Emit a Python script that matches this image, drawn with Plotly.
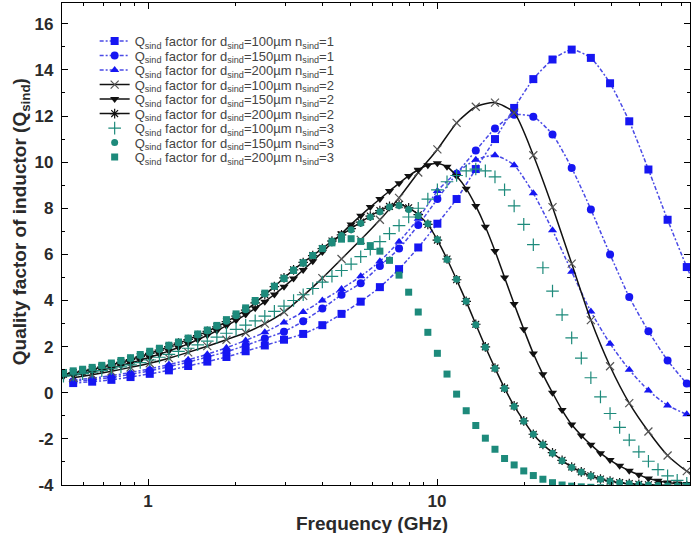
import plotly.graph_objects as go

# ---------------- data ----------------
# frequency grid (GHz) used by the densely sampled series
freq_fine = [0.510, 0.551, 0.594, 0.641, 0.692, 0.747, 0.806, 0.870, 0.940, 1.014,
             1.095, 1.181, 1.275, 1.377, 1.486, 1.604, 1.731, 1.868, 2.017, 2.177,
             2.349, 2.536, 2.737, 2.955, 3.189, 3.443, 3.716, 4.011, 4.330, 4.673,
             5.044, 5.445, 5.877, 6.344, 6.848, 7.391, 7.978, 8.612, 9.296, 10.03,
             10.83, 11.69, 12.62, 13.62, 14.70, 15.87, 17.13, 18.49, 19.96, 21.54,
             23.25, 25.10, 27.09, 29.24, 31.57, 34.07, 36.78, 39.70, 42.85, 46.26,
             49.93, 53.89, 58.17, 62.79, 67.78, 73.16, 78.97]

# frequency grid (GHz) used by the sparsely sampled series
freq_coarse = [0.551, 0.641, 0.747, 0.870, 1.014, 1.181, 1.377, 1.604, 1.868, 2.177,
               2.536, 2.955, 3.443, 4.011, 4.673, 5.445, 6.344, 7.391, 8.612, 10.03,
               11.69, 13.62, 15.87, 18.49, 21.54, 25.10, 29.24, 34.07, 39.70, 46.26,
               53.89, 62.79, 73.16, 85.24]

# n_sind = 1 (blue)
q_d100_n1 = [0.42, 0.48, 0.56, 0.68, 0.82, 0.97, 1.16, 1.35, 1.55, 1.80,
             2.05, 2.30, 2.55, 2.93, 3.42, 3.95, 4.58, 5.36, 6.30, 7.33,
             8.40, 9.70, 11.00, 12.35, 13.60, 14.45, 14.88, 14.52, 13.42, 11.77,
             9.68, 7.50, 5.45, 3.60]
q_d150_n1 = [0.50, 0.56, 0.66, 0.80, 0.95, 1.13, 1.33, 1.55, 1.78, 2.05,
             2.35, 2.65, 3.10, 3.65, 4.25, 4.75, 5.50, 6.25, 7.27, 8.40,
             9.50, 10.50, 11.46, 12.05, 11.97, 11.20, 9.75, 7.95, 6.00, 4.15,
             2.67, 1.40, 0.40, -0.40]
q_d200_n1 = [0.55, 0.63, 0.74, 0.88, 1.04, 1.22, 1.43, 1.67, 1.95, 2.27,
             2.62, 3.05, 3.50, 4.00, 4.50, 5.05, 5.70, 6.55, 7.55, 8.75,
             9.55, 10.10, 10.30, 9.87, 8.65, 7.05, 5.25, 3.52, 2.13, 1.00,
             0.10, -0.55, -0.93, -1.20]

# n_sind = 2 (black)
q_d100_n2 = [0.65, 0.78, 0.93, 1.10, 1.28, 1.50, 1.75, 2.02, 2.30, 2.60,
             3.00, 3.50, 4.20, 4.97, 5.80, 6.63, 7.50, 8.45, 9.55, 10.55,
             11.70, 12.40, 12.58, 12.15, 10.30, 8.05, 5.60, 3.15, 1.15, -0.45,
             -1.68, -2.72, -3.40, -3.80]
q_d150_n2 = [0.72, 0.78, 0.84, 0.91, 0.99, 1.08, 1.18, 1.29, 1.41, 1.54,
             1.67, 1.81, 1.96, 2.12, 2.30, 2.49, 2.69, 2.91, 3.14, 3.39,
             3.66, 3.95, 4.26, 4.60, 4.95, 5.32, 5.70, 6.10, 6.50, 6.90,
             7.30, 7.68, 8.05, 8.40, 8.75, 9.08, 9.40, 9.67, 9.87, 9.95,
             9.80, 9.40, 8.85, 8.10, 7.20, 6.15, 5.00, 3.85, 2.75, 1.70,
             0.80, 0.00, -0.75, -1.38, -1.85, -2.25, -2.62, -2.92, -3.17, -3.38,
             -3.56, -3.72, -3.82, -3.89, -3.93, -3.96, -3.98]
q_d200_n2 = [0.80, 0.87, 0.94, 1.02, 1.11, 1.21, 1.32, 1.44, 1.57, 1.71,
             1.85, 2.00, 2.15, 2.31, 2.48, 2.66, 2.86, 3.08, 3.32, 3.58,
             3.90, 4.25, 4.60, 4.98, 5.33, 5.65, 5.95, 6.25, 6.58, 6.85,
             7.12, 7.40, 7.66, 7.90, 8.08, 8.16, 8.02, 7.72, 7.30, 6.62,
             5.80, 4.90, 3.96, 2.97, 1.99, 1.07, 0.20, -0.57, -1.22, -1.80,
             -2.24, -2.60, -2.93, -3.22, -3.43, -3.60, -3.74, -3.83, -3.90, -3.94,
             -3.97, -3.99, -4.01, -4.02, -4.03, -4.04, -4.05]

# n_sind = 3 (teal)
q_d100_n3 = [0.72, 0.77, 0.83, 0.89, 0.96, 1.04, 1.12, 1.21, 1.31, 1.42,
             1.54, 1.66, 1.79, 1.93, 2.08, 2.24, 2.41, 2.58, 2.75, 2.93,
             3.12, 3.32, 3.53, 3.76, 4.00, 4.25, 4.52, 4.80, 5.05, 5.30,
             5.58, 5.90, 6.22, 6.55, 6.90, 7.25, 7.62, 8.00, 8.40, 8.80,
             9.15, 9.42, 9.62, 9.70, 9.62, 9.36, 8.80, 8.10, 7.30, 6.42,
             5.42, 4.41, 3.38, 2.38, 1.50, 0.65, -0.18, -0.90, -1.50, -2.05,
             -2.56, -2.97, -3.33, -3.60, -3.80, -3.93, -4.02]
q_d150_n3 = [0.85, 0.92, 0.99, 1.07, 1.16, 1.26, 1.37, 1.49, 1.62, 1.75,
             1.88, 2.02, 2.17, 2.33, 2.50, 2.68, 2.88, 3.10, 3.34, 3.60,
             3.95, 4.28, 4.62, 4.98, 5.33, 5.65, 5.95, 6.25, 6.58, 6.82,
             7.07, 7.35, 7.62, 7.85, 8.05, 8.12, 7.95, 7.68, 7.33, 6.65,
             5.78, 4.92, 3.97, 2.95, 1.97, 1.05, 0.18, -0.60, -1.24, -1.80,
             -2.25, -2.62, -2.95, -3.24, -3.44, -3.61, -3.75, -3.84, -3.90, -3.95,
             -3.98, -4.00, -4.02, -4.03, -4.04, -4.05, -4.06]
q_d200_n3 = [0.88, 0.95, 1.02, 1.10, 1.19, 1.29, 1.40, 1.52, 1.66, 1.80,
             1.93, 2.06, 2.20, 2.37, 2.55, 2.72, 2.92, 3.17, 3.42, 3.68,
             4.00, 4.32, 4.62, 4.95, 5.30, 5.62, 5.95, 6.25, 6.50, 6.66,
             6.68, 6.56, 6.38, 6.14, 5.74, 5.10, 4.36, 3.50, 2.62, 1.71,
             0.81, -0.06, -0.78, -1.42, -1.97, -2.45, -2.85, -3.13, -3.39, -3.59,
             -3.75, -3.90, -4.00, -4.05, -4.08, -4.10, -4.12, -4.14, -4.15, -4.16,
             -4.17, -4.18, -4.19, -4.20, -4.20, -4.21, -4.21]

# axis ticks
x_tick_vals = [1, 10]
x_tick_text = ["1", "10"]
x_minor_vals = [0.5, 0.6, 0.7, 0.8, 0.9, 2, 3, 4, 5, 6, 7, 8, 9, 20, 30, 40, 50, 60, 70]
y_tick_vals = [-4, -2, 0, 2, 4, 6, 8, 10, 12, 14, 16]
y_tick_text = ["-4", "-2", "0", "2", "4", "6", "8", "10", "12", "14", "16"]

# ---------------- styling ----------------
BLUE_M = "#1616f2"
BLUE_L = "#4a4ae6"
BLACK = "#111111"
TEAL = "#1d8a7b"


def lbl(d, n):
    return ("Q<sub>sind</sub> factor for d<sub>sind</sub>=%dµm n<sub>sind</sub>=%d" % (d, n))


series = [
    (freq_coarse, q_d100_n1, lbl(100, 1), "lines+markers", BLUE_L, "4px,2px,2px,2px",
     dict(symbol="square", size=8, color=BLUE_M)),
    (freq_coarse, q_d150_n1, lbl(150, 1), "lines+markers", BLUE_L, "4px,2px,2px,2px",
     dict(symbol="circle", size=8, color=BLUE_M)),
    (freq_coarse, q_d200_n1, lbl(200, 1), "lines+markers", BLUE_L, "4px,2px,2px,2px",
     dict(symbol="triangle-up", size=8, color=BLUE_M)),
    (freq_coarse, q_d100_n2, lbl(100, 2), "lines+markers", BLACK, "solid",
     dict(symbol="x-thin", size=8, color=BLACK, line=dict(width=1.2, color="#555555"))),
    (freq_fine, q_d150_n2, lbl(150, 2), "lines+markers", BLACK, "solid",
     dict(symbol="triangle-down", size=8, color=BLACK)),
    (freq_fine, q_d200_n2, lbl(200, 2), "lines+markers", BLACK, "solid",
     dict(symbol="asterisk", size=8, color=BLACK, line=dict(width=1.2, color=BLACK))),
    (freq_fine, q_d100_n3, lbl(100, 3), "markers", TEAL, "solid",
     dict(symbol="cross-thin", size=9, color=TEAL, line=dict(width=1.2, color=TEAL))),
    (freq_fine, q_d150_n3, lbl(150, 3), "markers", TEAL, "solid",
     dict(symbol="circle", size=7, color=TEAL)),
    (freq_fine, q_d200_n3, lbl(200, 3), "markers", TEAL, "solid",
     dict(symbol="square", size=7, color=TEAL)),
]

fig = go.Figure()
for xs, ys, name, mode, lc, dash, mk in series:
    fig.add_trace(go.Scatter(
        x=xs, y=ys, name=name, mode=mode,
        line=dict(color=lc, width=1.5, dash=dash, shape="spline", smoothing=0.6),
        marker=mk,
    ))

axis_font = dict(family="Arial", size=17, color="#2a2a2a", weight="bold")
title_font = dict(family="Arial", size=19, color="#2a2a2a", weight="bold")

fig.update_layout(
    width=692, height=533,
    margin=dict(l=62, r=2, t=3, b=48),
    paper_bgcolor="white", plot_bgcolor="white",
    font=dict(family="Arial", color="#2a2a2a"),
    legend=dict(x=0.052, y=0.952, xanchor="left", yanchor="top",
                bgcolor="rgba(255,255,255,0)", borderwidth=0,
                font=dict(family="Arial", size=13, color="#444444"),
                itemwidth=30),
    xaxis=dict(
        type="log", range=[-0.2976, 1.8754],
        tickmode="array", tickvals=x_tick_vals, ticktext=x_tick_text,
        ticks="inside", ticklen=6, tickwidth=1, tickcolor="black",
        minor=dict(tickmode="array", tickvals=x_minor_vals, ticks="inside",
                   ticklen=3, tickcolor="black"),
        showline=True, linecolor="black", linewidth=1.2, mirror="ticks",
        showgrid=False, zeroline=False,
        tickfont=axis_font,
    ),
    yaxis=dict(
        range=[-4, 16.9],
        tickmode="array", tickvals=y_tick_vals, ticktext=y_tick_text,
        ticks="inside", ticklen=6, tickwidth=1, tickcolor="black",
        minor=dict(dtick=1, ticks="inside", ticklen=3, tickcolor="black"),
        showline=True, linecolor="black", linewidth=1.2, mirror="ticks",
        showgrid=False, zeroline=False,
        tickfont=axis_font, ticklabelstandoff=4,
    ),
    annotations=[
        dict(text="Quality factor of inductor (Q<sub>sind</sub>)",
             xref="paper", yref="paper", x=-0.064, y=0.547,
             xanchor="center", yanchor="middle", textangle=-90,
             showarrow=False, font=title_font),
        dict(text="Frequency (GHz)",
             xref="paper", yref="paper", x=0.4936, y=-0.079,
             xanchor="center", yanchor="middle",
             showarrow=False, font=title_font),
    ],
)

# tighten the legend row pitch to match the reference (~14.5 px per entry)
legend_js = """
var gd = document.getElementById('{plot_id}');
var items = gd.querySelectorAll('.legend .traces');
var base = null;
items.forEach(function(el, i) {
  var t = el.getAttribute('transform') || '';
  var m = /translate\\(\\s*([-0-9.e]+)[ ,]+([-0-9.e]+)\\s*\\)/.exec(t);
  var x = m ? parseFloat(m[1]) : 0;
  var y = m ? parseFloat(m[2]) : 0;
  if (base === null) { base = y; }
  el.setAttribute('transform', 'translate(' + x + ',' + (base + i * 14.5) + ')');
});
"""

fig.write_html("out.html", post_script=legend_js)
